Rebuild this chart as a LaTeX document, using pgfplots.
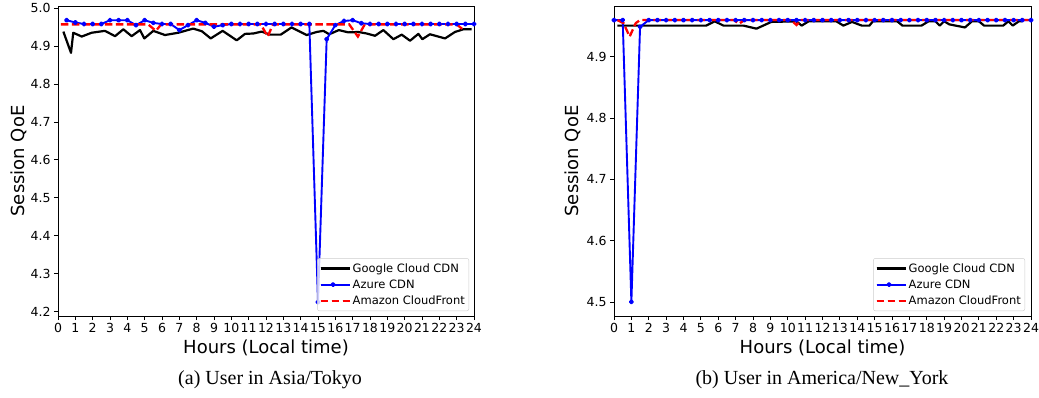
\documentclass[border=0pt]{standalone}
\usepackage{fontspec}
\setmainfont{DejaVu Sans}
\newfontfamily\capfont{Liberation Serif}
\usepackage{pgfplots}
\pgfplotsset{compat=1.18}
\pgfplotsset{
  myaxis/.style={
    scale only axis, width=416pt, height=310pt, anchor=south west,
    xmin=0, xmax=24, xtick={0,1,...,24},
    tick align=outside, xtick pos=bottom, ytick pos=left,
    major tick length=4pt, tick style={black, line width=0.8pt},
    axis line style={line width=0.8pt},
    /pgf/number format/assume math mode=true,
    ticklabel style={font=\fontsize{12.5}{12.5}\selectfont},
    yticklabel style={/pgf/number format/.cd, fixed, fixed zerofill, precision=1},
    label style={font=\fontsize{18}{18}\selectfont},
    xlabel={Hours (Local time)}, ylabel={Session QoE},
    xlabel style={at={(axis description cs:0.5,-0.103)}, anchor=center},
    legend cell align=left,
    legend image code/.code={%
      \draw[mark repeat=2,mark phase=2,##1] plot coordinates {(0pt,0pt)(12.5pt,0pt)(25pt,0pt)};
      \path (0pt,0pt) -- (29pt,0pt);},
    legend style={anchor=south east, draw=black!20, rounded corners=2pt,
      fill=white, fill opacity=0.8, text opacity=1,
      font=\fontsize{11.5}{13}\selectfont, nodes={inner sep=2pt}, row sep=2pt,
      inner xsep=2pt, inner ysep=3pt},
  },
  gline/.style={black, line width=2.2pt, line join=round},
  aline/.style={blue, line width=1.9pt, mark=*, mark size=1.6pt, mark options={solid}, line join=round},
  rline/.style={red, line width=2.3pt, dash pattern=on 7.5pt off 3.5pt},
}
\begin{document}
\begin{tikzpicture}[x=1pt,y=1pt]
\useasboundingbox (0,0) rectangle (1039,397);
% ---------- (a) Tokyo
\begin{axis}[myaxis, at={(58pt,81pt)},
  ymin=4.1885, ymax=5.0055, ytick={4.2,4.3,...,5.01},
  ylabel style={at={(axis description cs:-0.094,0.5)}, anchor=center},
  legend style={at={(0.988,0.016)}}]
\addplot[gline] coordinates {
(0.31,4.938) (0.75,4.882) (0.88,4.935) (1.37,4.925) (1.94,4.935) (2.71,4.940)
(3.29,4.926) (3.77,4.944) (4.25,4.926) (4.73,4.942) (4.98,4.920) (5.5,4.940)
(6.17,4.929) (6.94,4.935) (7.8,4.946) (8.3,4.939) (8.81,4.920) (9.5,4.940)
(10.31,4.915) (10.79,4.932) (11.27,4.933) (11.75,4.938) (12.23,4.930) (12.85,4.930)
(13.47,4.949) (14.35,4.929) (14.92,4.937) (15.31,4.940) (15.65,4.931) (16.2,4.942)
(16.75,4.936) (17.33,4.937) (17.81,4.933) (18.29,4.927) (18.77,4.942) (19.35,4.918)
(19.83,4.930) (20.31,4.914) (20.79,4.932) (21.02,4.918) (21.46,4.931) (22.33,4.920)
(22.9,4.937) (23.38,4.944) (23.87,4.944)};
\addlegendentry{Google Cloud CDN}
\addplot[aline] coordinates {
(0.5,4.968) (1.0,4.962) (1.5,4.958) (2.0,4.958) (2.5,4.958) (3.0,4.968)
(3.5,4.968) (4.0,4.968) (4.5,4.955) (5.0,4.968) (5.5,4.961) (6.0,4.958)
(6.5,4.958) (7.0,4.942) (7.5,4.955) (8.0,4.968) (8.5,4.961) (9.0,4.951)
(9.5,4.955) (10.0,4.958) (10.5,4.958) (11.0,4.958) (11.5,4.958) (12.0,4.958)
(12.5,4.958) (13.0,4.958) (13.5,4.958) (14.0,4.958) (14.5,4.958) (15.0,4.225)
(15.5,4.918) (16.0,4.955) (16.5,4.966) (17.0,4.968) (17.5,4.960) (18.0,4.958)
(18.5,4.958) (19.0,4.958) (19.5,4.958) (20.0,4.958) (20.5,4.958) (21.0,4.958)
(21.5,4.958) (22.0,4.958) (22.5,4.958) (23.0,4.958) (23.5,4.958) (24.0,4.958)};
\addlegendentry{Azure CDN}
\addplot[rline] coordinates {
(0.17,4.957) (5.2,4.957) (5.65,4.940) (5.95,4.957) (11.7,4.957) (12.1,4.925)
(12.4,4.957) (16.8,4.957) (17.3,4.925) (17.7,4.957) (23.0,4.957) (23.4,4.942)};
\addlegendentry{Amazon CloudFront}
\end{axis}
% ---------- (b) New York
\begin{axis}[myaxis, at={(614pt,81pt)}, width=417pt,
  ymin=4.477, ymax=4.983, ytick={4.5,4.6,...,4.91},
  ylabel style={at={(axis description cs:-0.098,0.5)}, anchor=center},
  legend style={at={(0.9856,0.016)}}]
\addplot[gline] coordinates {
(0.2,4.951) (5.3,4.951) (5.8,4.958) (6.3,4.951) (7.45,4.951) (8.2,4.946)
(9.05,4.957) (10.5,4.958) (10.8,4.951) (11.2,4.958) (12.8,4.958) (13.2,4.951)
(13.7,4.957) (14.26,4.951) (14.7,4.951) (14.9,4.958) (16.3,4.958) (16.6,4.951)
(17.7,4.951) (18.1,4.958) (18.5,4.958) (18.75,4.951) (19.0,4.958) (19.3,4.953)
(20.2,4.948) (20.6,4.958) (21.0,4.958) (21.3,4.951) (22.4,4.951) (22.7,4.958)
(22.95,4.951) (23.3,4.958) (23.5,4.958)};
\addlegendentry{Google Cloud CDN}
\addplot[aline] coordinates {
(0.0,4.960) (0.5,4.960) (1.0,4.500) (1.5,4.949) (2.0,4.960) (2.5,4.960)
(3.0,4.960) (3.5,4.960) (4.0,4.960) (4.5,4.960) (5.0,4.960) (5.5,4.960)
(6.0,4.960) (6.5,4.960) (7.0,4.960) (7.5,4.960) (8.0,4.960) (8.5,4.960)
(9.0,4.960) (9.5,4.960) (10.0,4.960) (10.5,4.960) (11.0,4.960) (11.5,4.960)
(12.0,4.960) (12.5,4.960) (13.0,4.960) (13.5,4.960) (14.0,4.960) (14.5,4.960)
(15.0,4.960) (15.5,4.960) (16.0,4.960) (16.5,4.960) (17.0,4.960) (17.5,4.960)
(18.0,4.960) (18.5,4.960) (19.0,4.960) (19.5,4.960) (20.0,4.960) (20.5,4.960)
(21.0,4.960) (21.5,4.960) (22.0,4.960) (22.5,4.960) (23.0,4.960) (23.5,4.960)
(24.0,4.960)};
\addlegendentry{Azure CDN}
\addplot[rline] coordinates {
(0.2,4.960) (0.55,4.955) (0.9,4.933) (1.25,4.955) (1.5,4.960) (6.9,4.960)
(7.2,4.954) (7.5,4.960) (10.2,4.960) (10.5,4.952) (10.8,4.960) (24.0,4.960)};
\addlegendentry{Amazon CloudFront}
\end{axis}
\node[font=\capfont\fontsize{20}{20}\selectfont] at (270,17) {(a) User in Asia/Tokyo};
\node[font=\capfont\fontsize{20}{20}\selectfont] at (822,17) {(b) User in America/New\_York};
\end{tikzpicture}
\end{document}
